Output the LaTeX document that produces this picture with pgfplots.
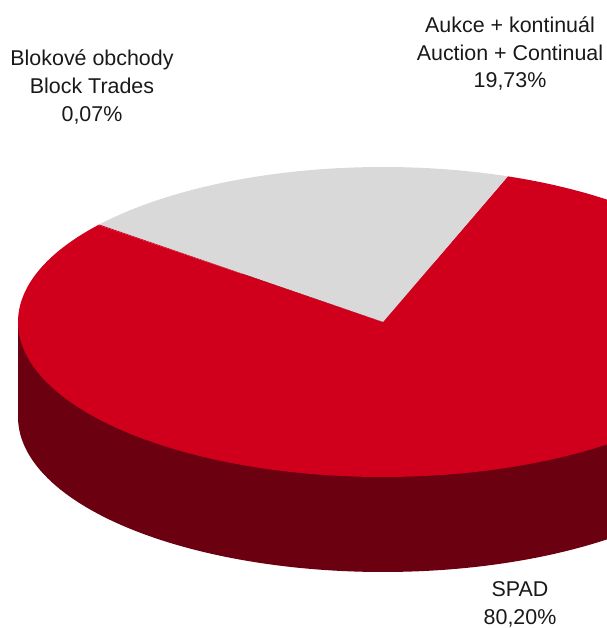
\documentclass[border=0pt]{standalone}
\usepackage{pgfplots}
\pgfplotsset{compat=1.18}
\usepackage{fontspec}
\setmainfont{Liberation Sans}
\definecolor{pieRed}{RGB}{208,0,28}
\definecolor{pieDark}{RGB}{106,0,16}
\definecolor{pieGrey}{RGB}{217,217,217}
% data (percent)
\pgfmathsetmacro{\vAukce}{19.73}
\pgfmathsetmacro{\vBlock}{0.07}
\pgfmathsetmacro{\vSPAD}{80.20}
% geometry (pixels)
\def\cx{383}\def\cy{322}\def\rx{365}\def\ry{155}\def\dep{95}
\pgfmathsetmacro{\aStart}{70}
\pgfmathsetmacro{\aA}{\aStart+3.6*\vAukce}
\pgfmathsetmacro{\aB}{\aA+3.6*\vBlock}
\pgfmathsetmacro{\aC}{\aB+3.6*\vSPAD}
\begin{document}
\begin{tikzpicture}
\begin{axis}[width=607bp, height=628bp, scale only axis,
  xmin=0, xmax=607, ymin=0, ymax=628, y dir=reverse,
  hide axis, clip=true]
\coordinate (bl) at (axis cs:0,628);
\coordinate (tr) at (axis cs:607,0);
% side: bottom ellipse + band
\addplot[fill=pieDark, draw=none, domain=0:360, samples=240, variable=\t]
  ({\cx+\rx*cos(t)},{\cy+\dep-\ry*sin(t)}) -- cycle;
\addplot[fill=pieDark, draw=none] coordinates
  {(\cx-\rx,\cy) (\cx+\rx,\cy) (\cx+\rx,\cy+\dep) (\cx-\rx,\cy+\dep)} -- cycle;
% top: SPAD
\addplot[fill=pieRed, draw=none, domain=\aB:\aC, samples=240, variable=\t]
  ({\cx+\rx*cos(t)},{\cy-\ry*sin(t)}) -- (axis cs:\cx,\cy) -- cycle;
% top: Aukce + kontinual
\addplot[fill=pieGrey, draw=none, domain=\aStart:\aA, samples=80, variable=\t]
  ({\cx+\rx*cos(t)},{\cy-\ry*sin(t)}) -- (axis cs:\cx,\cy) -- cycle;
% top: Block trades
\addplot[fill=pieRed, draw=none, domain=\aA:\aB, samples=3, variable=\t]
  ({\cx+\rx*cos(t)},{\cy-\ry*sin(t)}) -- (axis cs:\cx,\cy) -- cycle;
% labels
\begin{scope}[every node/.style={font=\fontsize{21.5}{26}\selectfont, anchor=base, inner sep=0pt, text=black!90}]
\node at (axis cs:92,66) {Blokové obchody};
\node at (axis cs:92,93.5) {Block Trades};
\node at (axis cs:92,121) {0,07\%};
\node at (axis cs:510,33) {Aukce + kontinuál};
\node at (axis cs:510,60.5) {Auction + Continual};
\node at (axis cs:510,88) {19,73\%};
\node at (axis cs:520,596) {SPAD};
\node at (axis cs:520,624) {80,20\%};
\end{scope}
\end{axis}
\pgfresetboundingbox
\useasboundingbox (bl) rectangle (tr);
\end{tikzpicture}
\end{document}
